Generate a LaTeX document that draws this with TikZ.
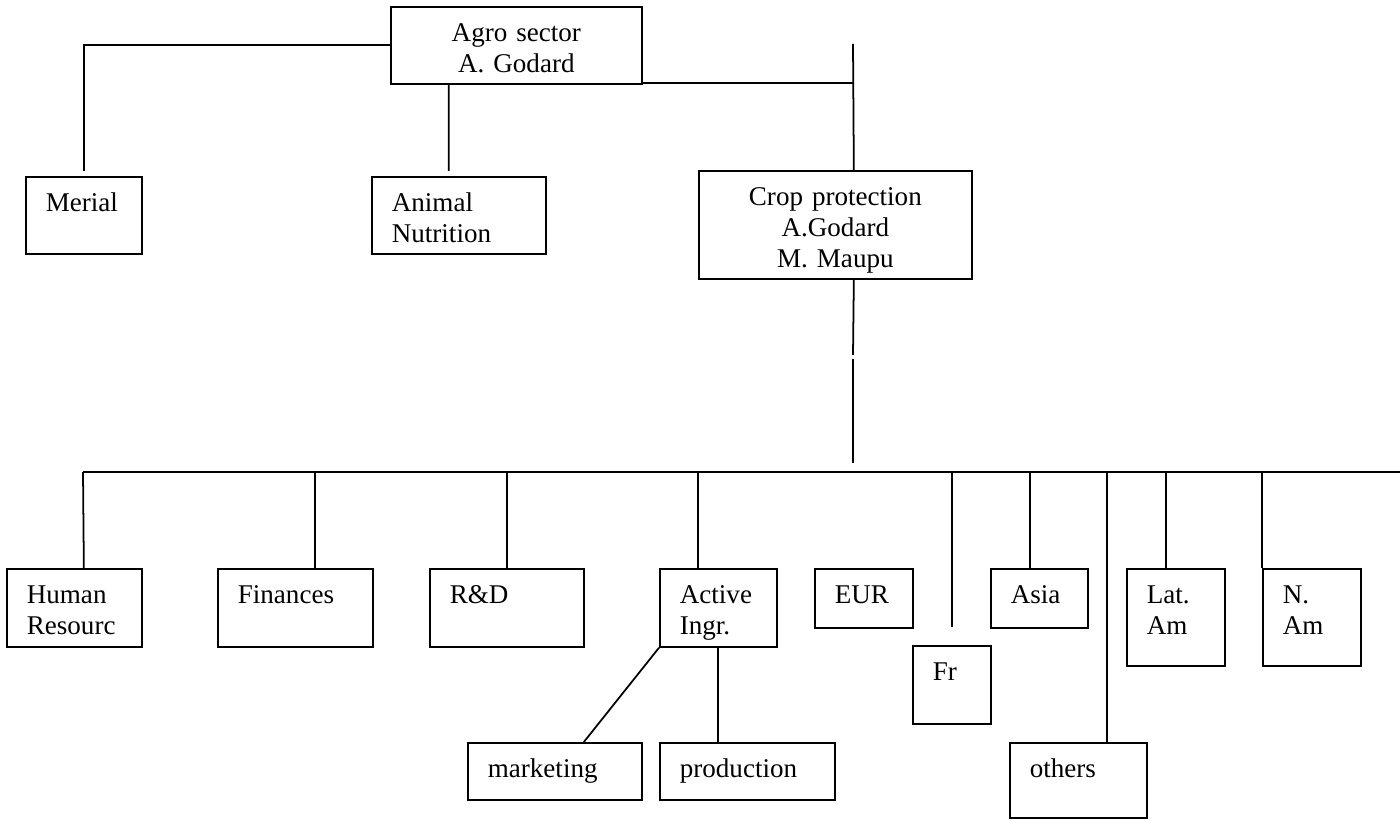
\documentclass[tikz,border=0pt]{standalone}
\usepackage{fontspec}
\setmainfont{Liberation Serif}

\tikzset{
  orgbox/.style={draw, line width=1pt, anchor=north west, inner xsep=0.4cm, inner ysep=0pt,
    text height=0.7cm, align=left},
  link/.style={line width=1pt}
}

\begin{document}
\begin{tikzpicture}[x=0.02cm, y=-0.02cm, every node/.style={font=\fontsize{15.4}{17.6}\selectfont}]
        \useasboundingbox (0,0) rectangle (1400,820);

        % Top level
        \node[orgbox, align=center, text width=4.22cm, text depth=0.84cm] (agro) at (390,6) {Agro sector\\A. Godard};
        \node[orgbox, text width=1.52cm, text depth=0.84cm] (merial) at (25,176) {Merial};
        \node[orgbox, text width=2.68cm, text depth=0.84cm] (animal) at (371,176) {Animal\\Nutrition};
        \node[orgbox, align=center, text width=4.66cm, text depth=1.46cm] (crop) at (698,170) {Crop protection\\A.Godard\\M. Maupu};

        % Departments
        \node[orgbox, text width=1.90cm, text depth=0.86cm] (hr) at (6,568) {Human\\Resourc};
        \node[orgbox, text width=2.30cm, text depth=0.86cm] (fin) at (217,568) {Finances};
        \node[orgbox, text width=2.28cm, text depth=0.86cm] (rd) at (429,568) {R\&D};
        \node[orgbox, text width=1.54cm, text depth=0.86cm] (active) at (659,568) {Active\\Ingr.};
        \node[orgbox, text width=2.68cm, text depth=0.44cm] (mkt) at (467,742) {marketing};
        \node[orgbox, text width=2.70cm, text depth=0.44cm] (prod) at (659,742) {production};

        % Regions
        \node[orgbox, text width=1.16cm, text depth=0.48cm] (eur) at (814,568) {EUR};
        \node[orgbox, text width=0.76cm, text depth=0.86cm] (fr) at (912,645) {Fr};
        \node[orgbox, text width=1.14cm, text depth=0.48cm] (asia) at (990,568) {Asia};
        \node[orgbox, text width=1.94cm, text depth=0.80cm] (others) at (1009,742) {others};
        \node[orgbox, text width=1.16cm, text depth=1.24cm] (latam) at (1126,568) {Lat.\\Am};
        \node[orgbox, text width=1.16cm, text depth=1.24cm] (nam) at (1262,568) {N.\\Am};

        % Connections, top
        \coordinate (croptop) at (853,44);
        \draw[link] (agro.west) -| ([yshift=0.1cm]merial.north);
        \draw[link] ([xshift=-1.35cm]agro.south) -- ([xshift=-0.2cm,yshift=0.1cm]animal.north);
        \draw[link] ([yshift=0.04cm]agro.south east) -- ([yshift=0.04cm]agro.south east -| croptop);
        \draw[link] (croptop) -- ([xshift=0.37cm]crop.north);

        % Connections, crop protection down to the bus
        \coordinate (gapa) at (853,355);
        \coordinate (gapb) at (853,359);
        \coordinate (busend) at (853,463);
        \coordinate (busL) at (83,472);
        \coordinate (busR) at (1400,472);
        \draw[link] ([xshift=0.37cm]crop.south) -- (gapa);
        \draw[link] (gapb) -- (busend);
        \draw[link] (busL) -- (busR);

        % Drops from the bus
        \draw[link] (busL) -- ([xshift=0.19cm]hr.north);
        \draw[link] ([xshift=0.39cm]fin.north |- busL) -- ([xshift=0.39cm]fin.north);
        \draw[link] (rd.north |- busL) -- (rd.north);
        \draw[link] ([xshift=-0.4cm]active.north |- busL) -- ([xshift=-0.4cm]active.north);
        \draw[link] (fr.north |- busL) -- ([yshift=0.36cm]fr.north);
        \draw[link] ([xshift=-0.19cm]asia.north |- busL) -- ([xshift=-0.19cm]asia.north);
        \draw[link] ([xshift=0.57cm]others.north |- busL) -- ([xshift=0.57cm]others.north);
        \draw[link] ([xshift=-0.2cm]latam.north |- busL) -- ([xshift=-0.2cm]latam.north);
        \draw[link] (nam.north west |- busL) -- (nam.north west);

        % Active ingredients
        \draw[link] (active.south west) -- ([xshift=0.58cm]mkt.north);
        \draw[link] (active.south) -- (active.south |- prod.north);
    \end{tikzpicture}
\end{document}
